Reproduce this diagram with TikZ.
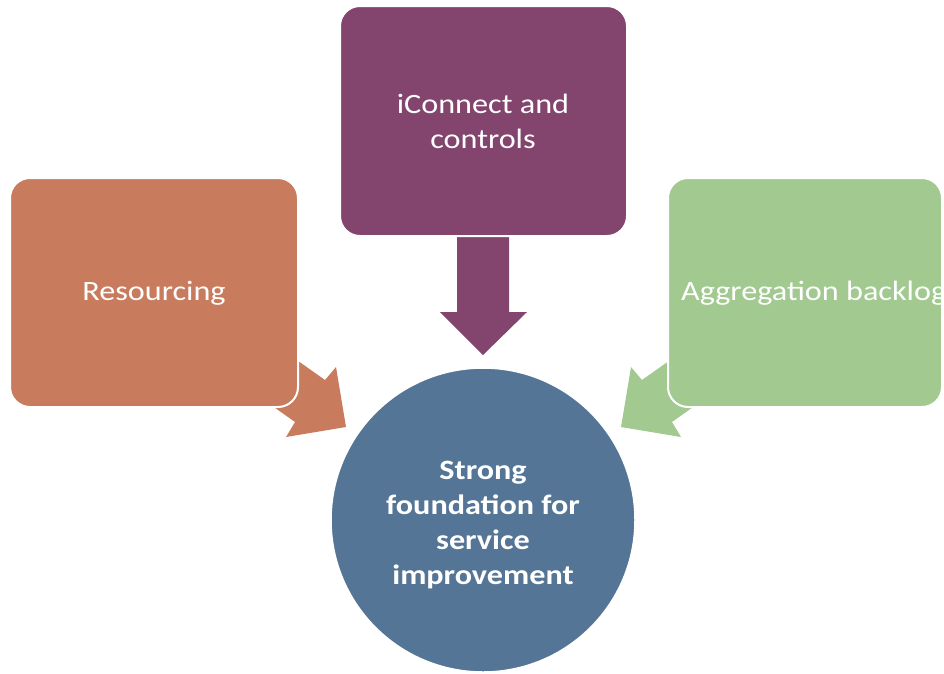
\documentclass[tikz,border=0pt]{standalone}
\usepackage{fontspec}
\setmainfont{Carlito}[FakeStretch=1.15]
\definecolor{cpurple}{RGB}{131,68,110}
\definecolor{corange}{RGB}{201,124,93}
\definecolor{cgreen}{RGB}{161,201,144}
\definecolor{cblue}{RGB}{85,117,150}
\tikzset{
  boxstyle/.style={draw=white, line width=2pt, rounded corners=20pt},
  txt/.style={text=white, font=\fontsize{28}{35}\selectfont, align=center, inner sep=0pt},
  btxt/.style={txt, font=\fontsize{28}{35}\selectfont\bfseries},
}
\begin{document}
\begin{tikzpicture}[x=1pt,y=-1pt]
\useasboundingbox (0,0) rectangle (944,673);
% arrows (behind boxes)
\fill[corange] (260,334) -- (325,380) -- (336,367) -- (346,427) -- (286,437) -- (295,422) -- (230,376) -- cycle;
\fill[cgreen] (707,334) -- (642,380) -- (631,367) -- (621,427) -- (681,437) -- (672,422) -- (737,376) -- cycle;
\fill[cpurple] (457,220) -- (509,220) -- (509,312) -- (527,312) -- (483,355) -- (440,312) -- (457,312) -- cycle;
% boxes
\path[boxstyle, fill=cpurple] (340,6) rectangle (627,236);
\path[boxstyle, fill=corange] (10,178) rectangle (298,407);
\path[boxstyle, fill=cgreen] (668,178) rectangle (942,407);
\node[txt] (top) at (483,121) {iConnect and\\controls};
\node[txt] (left) at (154,293) {Resourcing};
\node[txt, anchor=west] (right) at (681,293) {Aggregation backlog};
% circle
\path[draw=white, line width=1.5pt, fill=cblue] (483,520) circle (152);
\node[btxt] (center) at (483,525) {Strong\\foundation for\\service\\improvement};
\end{tikzpicture}
\end{document}
